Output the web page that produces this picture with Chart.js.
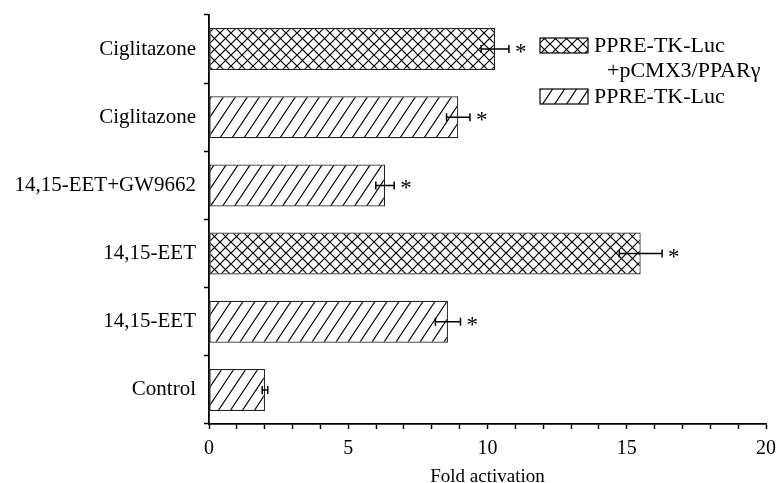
<!DOCTYPE html>
<html>
<head>
<meta charset="utf-8">
<script src="https://cdn.jsdelivr.net/npm/chart.js@4.4.1/dist/chart.umd.min.js"></script>
<style>
  html, body { margin: 0; padding: 0; background: #fff; }
  #wrap { width: 777px; height: 483px; }
</style>
</head>
<body>
<div id="wrap"><canvas id="foldChart" width="777" height="483"></canvas></div>
<script>
// values (fold activation, mean +/- error)
const categories = ['Ciglitazone', 'Ciglitazone', '14,15-EET+GW9662', '14,15-EET', '14,15-EET', 'Control'];
const foldValues = [10.27, 8.95, 6.32, 15.5, 8.58, 2.01];
const foldErrors = [0.5, 0.42, 0.33, 0.77, 0.45, 0.1];
// which reporter construct each bar belongs to
const constructs = ['pparg', 'ppre', 'ppre', 'pparg', 'ppre', 'ppre'];
const significant = [true, true, true, true, true, false];
const xTicks = [0, 5, 10, 15, 20];
const legendLabels = {
  pparg: ['PPRE-TK-Luc', '+pCMX3/PPARγ'],
  ppre: ['PPRE-TK-Luc']
};

const serif = "'Liberation Serif', 'Times New Roman', serif";

function makePattern(kind) {
  const c = document.createElement('canvas');
  const g = c.getContext('2d');
  if (kind === 'pparg') {
    c.width = 11; c.height = 11;
    g.fillStyle = '#fff';
    g.fillRect(0, 0, 11, 11);
    g.strokeStyle = '#000';
    g.lineWidth = 1.2;
    g.beginPath();
    g.moveTo(0, 0); g.lineTo(11, 11);
    g.moveTo(0, 11); g.lineTo(11, 0);
    g.stroke();
  } else {
    c.width = 12; c.height = 18;
    g.fillStyle = '#fff';
    g.fillRect(0, 0, 12, 18);
    g.strokeStyle = '#000';
    g.lineWidth = 1.2;
    g.beginPath();
    for (let k = -1; k <= 1; k++) {
      g.moveTo(k * 12, 18); g.lineTo(k * 12 + 12, 0);
    }
    g.stroke();
  }
  return g.createPattern(c, 'repeat');
}

const patterns = { pparg: makePattern('pparg'), ppre: makePattern('ppre') };

// fix the axis boxes so the plot area lands where it is in the figure
function fixBox(size, key) {
  return s => {
    s[key] = size;
    s.paddingTop = 0; s.paddingBottom = 0;
    s.paddingLeft = 0; s.paddingRight = 0;
  };
}

// error bars + asterisks
const errorBarPlugin = {
  id: 'errorBars',
  afterDatasetsDraw(chart) {
    const ctx = chart.ctx;
    const xs = chart.scales.x;
    const bars = chart.getDatasetMeta(0).data;
    ctx.save();
    ctx.strokeStyle = '#000';
    ctx.lineWidth = 1.5;
    bars.forEach((bar, i) => {
      const lo = xs.getPixelForValue(foldValues[i] - foldErrors[i]);
      const hi = xs.getPixelForValue(foldValues[i] + foldErrors[i]);
      const y = bar.y;
      ctx.beginPath();
      ctx.moveTo(lo, y); ctx.lineTo(hi, y);
      ctx.moveTo(lo, y - 4); ctx.lineTo(lo, y + 4);
      ctx.moveTo(hi, y - 4); ctx.lineTo(hi, y + 4);
      ctx.stroke();
      if (significant[i]) {
        ctx.fillStyle = '#000';
        ctx.font = '23px ' + serif;
        ctx.textAlign = 'left';
        ctx.textBaseline = 'alphabetic';
        ctx.fillText('*', hi + 6, y + 10);
      }
    });
    ctx.restore();
  }
};

// legend drawn by hand because of the two-line entry
const legendPlugin = {
  id: 'hatchLegend',
  afterDraw(chart) {
    const ctx = chart.ctx;
    ctx.save();
    ctx.font = '22px ' + serif;
    ctx.textBaseline = 'middle';
    ctx.textAlign = 'left';
    const items = [
      { kind: 'pparg', top: 38 },
      { kind: 'ppre', top: 89 }
    ];
    items.forEach(item => {
      ctx.fillStyle = patterns[item.kind];
      ctx.fillRect(540, item.top, 48, 15);
      ctx.strokeStyle = '#000';
      ctx.lineWidth = 1.2;
      ctx.strokeRect(540, item.top, 48, 15);
      ctx.fillStyle = '#000';
      legendLabels[item.kind].forEach((line, j) => {
        ctx.fillText(line, j === 0 ? 594 : 607, item.top + 8 + j * 25);
      });
    });
    ctx.restore();
  }
};

new Chart(document.getElementById('foldChart'), {
  type: 'bar',
  data: {
    labels: categories,
    datasets: [{
      data: foldValues,
      backgroundColor: constructs.map(k => patterns[k]),
      borderColor: '#222',
      borderWidth: 1.2,
      borderSkipped: false,
      categoryPercentage: 1,
      barPercentage: 0.615
    }]
  },
  options: {
    indexAxis: 'y',
    responsive: false,
    animation: false,
    layout: { padding: { top: 15, right: 11, left: 0, bottom: 0 } },
    plugins: { legend: { display: false }, tooltip: { enabled: false } },
    scales: {
      x: {
        min: 0,
        max: 20,
        afterFit: fixBox(59, 'height'),
        ticks: {
          stepSize: 1,
          autoSkip: false,
          maxRotation: 0,
          padding: 8,
          color: '#000',
          font: { family: serif, size: 20 },
          callback: v => xTicks.includes(v) ? v : ''
        },
        grid: { drawOnChartArea: false, tickLength: 5, color: '#000', tickWidth: 1.5 },
        border: { color: '#000', width: 1.8 },
        title: {
          display: true,
          text: 'Fold activation',
          color: '#000',
          font: { family: serif, size: 19, lineHeight: 1 },
          padding: { top: 0, bottom: -4 }
        }
      },
      y: {
        afterFit: fixBox(209, 'width'),
        ticks: {
          padding: 8,
          color: '#000',
          font: { family: serif, size: 21 }
        },
        grid: { drawOnChartArea: false, tickLength: 5, color: '#000', tickWidth: 1.5 },
        border: { color: '#000', width: 1.8 }
      }
    }
  },
  plugins: [errorBarPlugin, legendPlugin]
});
</script>
</body>
</html>
